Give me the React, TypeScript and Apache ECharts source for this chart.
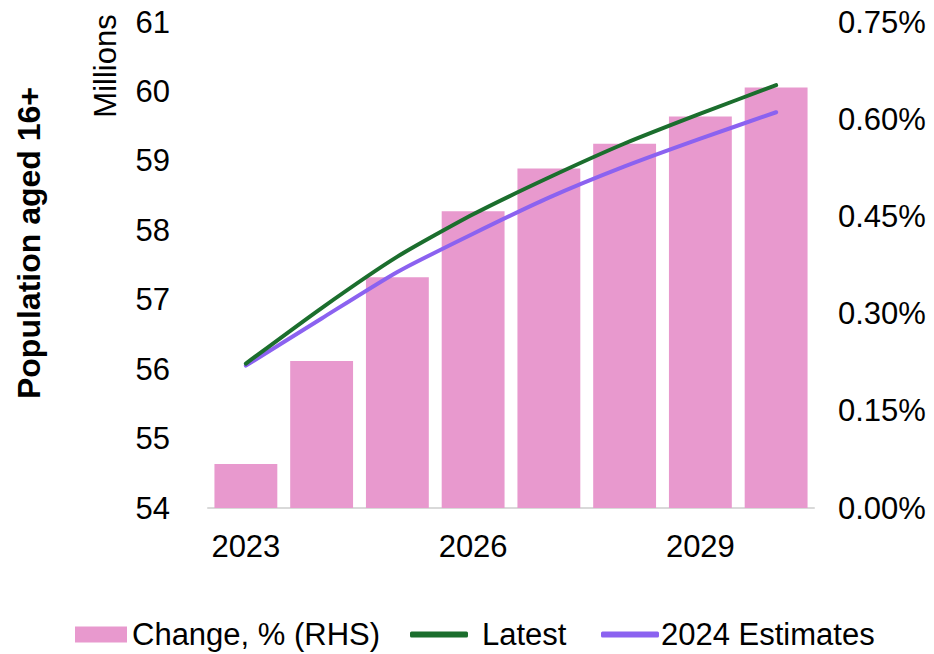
import React, { useEffect, useRef } from "react";
import * as echarts from "echarts";

const categories = ["2023", "2024", "2025", "2026", "2027", "2028", "2029", "2030"];
const changePct = [0.068, 0.227, 0.356, 0.458, 0.524, 0.562, 0.604, 0.649];
const latest = [56.08, 56.88, 57.62, 58.23, 58.76, 59.25, 59.68, 60.09];
const estimates2024 = [56.05, 56.73, 57.4, 57.95, 58.47, 58.92, 59.32, 59.7];

const FONT = "'Liberation Sans', Arial, sans-serif";
const PINK = "#E899CE";
const GREEN = "#1B6E2D";
const PURPLE = "#8B62F0";

export default function App() {
  const ref = useRef<HTMLDivElement>(null);
  useEffect(() => {
    if (!ref.current) return;
    const chart = echarts.init(ref.current, undefined, { renderer: "svg" });
    const legendText = { fontFamily: FONT, fontSize: 31, color: "#000" };
    chart.setOption({
      animation: false,
      backgroundColor: "#fff",
      textStyle: { fontFamily: FONT },
      grid: { left: 208, right: 120, top: 22, bottom: 146, containLabel: false },
      legend: [
        {
          left: 75,
          top: 619,
          itemWidth: 52,
          itemHeight: 16,
          itemGap: 0,
          padding: 0,
          data: [{ name: "Change, % (RHS)", icon: "rect" }],
          textStyle: legendText,
          selectedMode: false,
        },
        {
          left: 410,
          top: 619,
          itemWidth: 58,
          itemHeight: 6,
          padding: 0,
          data: [{ name: "Latest", icon: "roundRect" }],
          textStyle: { ...legendText, padding: [0, 0, 0, 9] },
          selectedMode: false,
        },
        {
          left: 601,
          top: 619,
          itemWidth: 58,
          itemHeight: 6,
          itemGap: 0,
          padding: 0,
          data: [{ name: "2024 Estimates", icon: "roundRect" }],
          textStyle: { ...legendText, padding: [0, 0, 0, -3] },
          selectedMode: false,
        },
      ],
      xAxis: {
        type: "category",
        data: categories,
        axisLine: { lineStyle: { color: "#d9d9d9", width: 2 } },
        axisTick: { show: false },
        axisLabel: {
          interval: 2,
          fontFamily: FONT,
          fontSize: 31,
          color: "#000",
          margin: 23,
        },
      },
      yAxis: [
        {
          type: "value",
          min: 54,
          max: 61,
          interval: 1,
          splitLine: { show: false },
          axisLine: { show: false },
          axisTick: { show: false },
          axisLabel: { fontFamily: FONT, fontSize: 31, color: "#000", margin: 38 },
        },
        {
          type: "value",
          min: 0,
          max: 0.75,
          interval: 0.15,
          position: "right",
          splitLine: { show: false },
          axisLine: { show: false },
          axisTick: { show: false },
          axisLabel: {
            fontFamily: FONT,
            fontSize: 31,
            color: "#000",
            margin: 24,
            formatter: (v: number) => v.toFixed(2) + "%",
          },
        },
      ],
      graphic: [
        {
          type: "text",
          x: 29,
          y: 243,
          rotation: Math.PI / 2,
          style: {
            text: "Population aged 16+",
            fontFamily: FONT,
            fontSize: 32,
            fontWeight: "bold",
            fill: "#000",
            align: "center",
            verticalAlign: "middle",
          },
        },
        {
          type: "text",
          x: 105,
          y: 66,
          rotation: Math.PI / 2,
          style: {
            text: "Millions",
            fontFamily: FONT,
            fontSize: 31,
            fill: "#000",
            align: "center",
            verticalAlign: "middle",
          },
        },
      ],
      series: [
        {
          name: "Change, % (RHS)",
          type: "bar",
          yAxisIndex: 1,
          data: changePct,
          barCategoryGap: "17%",
          itemStyle: { color: PINK },
          z: 1,
        },
        {
          name: "Latest",
          type: "line",
          yAxisIndex: 0,
          data: latest,
          smooth: 0.2,
          showSymbol: false,
          lineStyle: { color: GREEN, width: 4, cap: "round" },
          itemStyle: { color: GREEN },
          z: 3,
        },
        {
          name: "2024 Estimates",
          type: "line",
          yAxisIndex: 0,
          data: estimates2024,
          smooth: 0.2,
          showSymbol: false,
          lineStyle: { color: PURPLE, width: 4, cap: "round" },
          itemStyle: { color: PURPLE },
          z: 2,
        },
      ],
    });
    return () => chart.dispose();
  }, []);
  return (
    <div
      ref={ref}
      style={{ position: "absolute", left: 0, top: 0, width: 934, height: 654 }}
    />
  );
}
